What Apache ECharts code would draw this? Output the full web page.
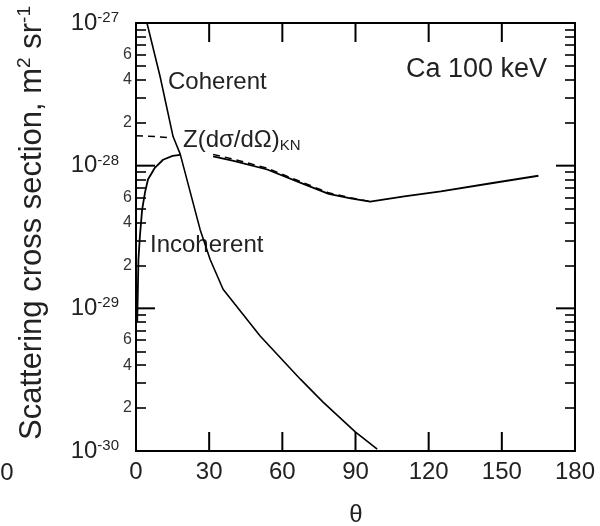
<!DOCTYPE html>
<html>
<head>
<meta charset="utf-8">
<title>Ca 100 keV scattering cross section</title>
<script src="https://cdn.jsdelivr.net/npm/echarts@6/dist/echarts.min.js"></script>
<style>
  html, body { margin: 0; padding: 0; background: #fff; }
  #chart { width: 600px; height: 526px; }
</style>
</head>
<body>
<div id="chart"></div>
<script>
// scattering angle theta (deg) and cross section (m^2 sr^-1)
const coherentTheta = [2, 4.5, 9.9, 15.2, 18.1, 26.3, 30.4, 35.7, 50.9, 67.3, 76.7, 89.9, 98.9]
const coherentValue = [1.5e-27, 1.0e-27, 4.2e-28, 1.6e-28, 1.21e-28, 3.56e-29, 2.2e-29, 1.36e-29, 6.4e-30, 3.2e-30, 2.2e-30, 1.36e-30, 1.03e-30]

// null = gap where the curve is hidden behind the KN label
const incoherentTheta = [0.5, 1, 1.6, 2.5, 3.7, 4.9, 7.8, 11.1, 15, 18.1, 20, 31.6, 40, 53.8, 67.3, 79, 88, 96, 110, 125, 145, 165]
const incoherentValue = [8e-30, 2.2e-29, 3.2e-29, 4.9e-29, 6.5e-29, 8.0e-29, 9.7e-29, 1.10e-28, 1.17e-28, 1.19e-28, null, 1.16e-28, 1.08e-28, 9.4e-29, 7.6e-29, 6.35e-29, 5.9e-29, 5.6e-29, 6.1e-29, 6.6e-29, 7.5e-29, 8.5e-29]

const knTheta = [0, 5, 10, 14, 15, 31.6, 40, 53.8, 67.3, 79, 88, 96]
const knValue = [1.62e-28, 1.61e-28, 1.59e-28, 1.57e-28, null, 1.2e-28, 1.11e-28, 9.6e-29, 7.75e-29, 6.45e-29, 5.95e-29, 5.62e-29]

// axis ticks
const xTicks = [0, 30, 60, 90, 120, 150, 180]
const yDecades = [-30, -29, -28, -27]
const minorMantissas = [2, 3, 4, 5, 6, 7, 8, 9]
const labelledMantissas = [2, 4, 6]

const FONT = 'Liberation Sans, Arial, sans-serif'
const INK = '#000'
const TEXT = '#222'
const MAJOR_TICK = 19

function toLog(thetas, values) {
  return thetas.map(function(t, i) {
    const v = values[i]
    return [t, v == null ? null : Math.log10(v)]
  })
}

function minorPositions(mantissas) {
  const out = []
  for (let i = 0; i < yDecades.length - 1; i++) {
    mantissas.forEach(function(m) {
      out.push(yDecades[i] + Math.log10(m))
    })
  }
  return out
}

const xMin = xTicks[0]
const xMax = xTicks[xTicks.length - 1]
const yMin = yDecades[0]
const yMax = yDecades[yDecades.length - 1]

// major ticks on all four sides: [x, y, side], side 0 bottom, 1 top, 2 left, 3 right
function majorTickData() {
  const out = []
  xTicks.forEach(function(t) {
    out.push([t, yMin, 0])
    out.push([t, yMax, 1])
  })
  yDecades.forEach(function(d) {
    out.push([xMin, d, 2])
    out.push([xMax, d, 3])
  })
  return out
}

function renderMajorTick(params, api) {
  const p = api.coord([api.value(0), api.value(1)])
  const side = api.value(2)
  const dx = side === 2 ? MAJOR_TICK : side === 3 ? -MAJOR_TICK : 0
  const dy = side === 0 ? -MAJOR_TICK : side === 1 ? MAJOR_TICK : 0
  return {
    type: 'line',
    shape: { x1: p[0], y1: p[1], x2: p[0] + dx, y2: p[1] + dy },
    style: { stroke: INK, lineWidth: 2 }
  }
}

// an axis that only draws its line
function lineAxis(type, position) {
  const isX = type === 'x'
  return {
    type: 'value',
    position: position,
    min: isX ? xMin : yMin,
    max: isX ? xMax : yMax,
    interval: isX ? 30 : 1,
    splitLine: { show: false },
    axisLine: { show: true, onZero: false, lineStyle: { color: INK, width: 2 } },
    axisTick: { show: false },
    axisLabel: { show: false }
  }
}

// a line-less y axis that draws the short minor ticks
function minorAxis(position) {
  return {
    type: 'value',
    position: position,
    min: yMin,
    max: yMax,
    interval: 1,
    splitLine: { show: false },
    axisLine: { show: false, onZero: false },
    axisTick: {
      show: true,
      inside: true,
      length: 10,
      customValues: minorPositions(minorMantissas),
      lineStyle: { color: INK, width: 1.6 }
    },
    axisLabel: { show: false }
  }
}

const chart = echarts.init(document.getElementById('chart'))

chart.setOption({
  animation: false,
  grid: {
    left: 136,
    right: 25,
    top: 23,
    bottom: 75
  },
  xAxis: [
    Object.assign(lineAxis('x', 'bottom'), {
      axisLabel: { show: true, margin: 9, fontSize: 24, color: TEXT, fontFamily: FONT }
    }),
    lineAxis('x', 'top')
  ],
  yAxis: [
    // left, decades with 10^n labels
    Object.assign(lineAxis('y', 'left'), {
      axisLabel: {
        show: true,
        margin: 17,
        formatter: function(v) {
          return '{b|10}{s|' + Math.round(v) + '}'
        },
        rich: {
          b: { fontSize: 24, color: TEXT, fontFamily: FONT },
          s: { fontSize: 15, color: TEXT, fontFamily: FONT, verticalAlign: 'bottom', padding: [0, 0, 10, 0] }
        }
      }
    }),
    // left minor ticks 2..9, with 2, 4, 6 labelled
    Object.assign(minorAxis('left'), {
      axisLabel: {
        show: true,
        margin: 4,
        fontSize: 16,
        color: '#333',
        fontFamily: FONT,
        customValues: minorPositions(labelledMantissas),
        formatter: function(v) {
          return String(Math.round(Math.pow(10, v - Math.floor(v))))
        }
      }
    }),
    lineAxis('y', 'right'),
    minorAxis('right')
  ],
  series: [{
    name: 'Coherent',
    type: 'line',
    showSymbol: false,
    data: toLog(coherentTheta, coherentValue),
    lineStyle: { color: INK, width: 1.6 }
  }, {
    name: 'Incoherent',
    type: 'line',
    showSymbol: false,
    data: toLog(incoherentTheta, incoherentValue),
    lineStyle: { color: INK, width: 1.8 }
  }, {
    name: 'KN',
    type: 'line',
    showSymbol: false,
    data: toLog(knTheta, knValue),
    lineStyle: { color: INK, width: 1.5, type: [7, 5] }
  }, {
    // long inward major ticks, placed through the axes' own scales
    name: 'majorTicks',
    type: 'custom',
    silent: true,
    clip: false,
    renderItem: renderMajorTick,
    data: majorTickData()
  }],
  graphic: [{
    type: 'text',
    x: 32,
    y: 223,
    rotation: Math.PI / 2,
    style: {
      text: 'Scattering cross section, m{sup|2} sr{sup|-1}',
      font: '31px ' + FONT,
      fill: TEXT,
      align: 'center', textAlign: 'center',
      verticalAlign: 'middle', textVerticalAlign: 'middle',
      rich: {
        sup: { fontSize: 19, fill: TEXT, fontFamily: FONT, verticalAlign: 'bottom', padding: [0, 0, 14, 0] }
      }
    }
  }, {
    type: 'text',
    x: 356,
    y: 515,
    style: {
      text: 'θ',
      font: '24px ' + FONT,
      fill: TEXT,
      align: 'center', textAlign: 'center',
      verticalAlign: 'middle', textVerticalAlign: 'middle'
    }
  }, {
    // fragment of the neighbouring panel's axis
    type: 'text',
    x: 7,
    y: 473,
    style: {
      text: '0',
      font: '24px ' + FONT,
      fill: TEXT,
      align: 'center', textAlign: 'center',
      verticalAlign: 'middle', textVerticalAlign: 'middle'
    }
  }, {
    type: 'text',
    x: 168,
    y: 82,
    style: {
      text: 'Coherent',
      font: '24px ' + FONT,
      fill: TEXT,
      align: 'left', textAlign: 'left',
      verticalAlign: 'middle', textVerticalAlign: 'middle'
    }
  }, {
    type: 'text',
    x: 150,
    y: 245,
    style: {
      text: 'Incoherent',
      font: '24px ' + FONT,
      fill: TEXT,
      align: 'left', textAlign: 'left',
      verticalAlign: 'middle', textVerticalAlign: 'middle'
    }
  }, {
    type: 'text',
    x: 547,
    y: 70,
    style: {
      text: 'Ca 100 keV',
      font: '27px ' + FONT,
      fill: TEXT,
      align: 'right', textAlign: 'right',
      verticalAlign: 'middle', textVerticalAlign: 'middle'
    }
  }, {
    type: 'text',
    x: 183,
    y: 140,
    style: {
      text: 'Z(dσ/dΩ){sub|KN}',
      font: '24px ' + FONT,
      fill: TEXT,
      align: 'left', textAlign: 'left',
      verticalAlign: 'middle', textVerticalAlign: 'middle',
      rich: {
        sub: { fontSize: 15, fill: TEXT, fontFamily: FONT, verticalAlign: 'top', padding: [12, 0, 0, 0] }
      }
    }
  }]
})
</script>
</body>
</html>
